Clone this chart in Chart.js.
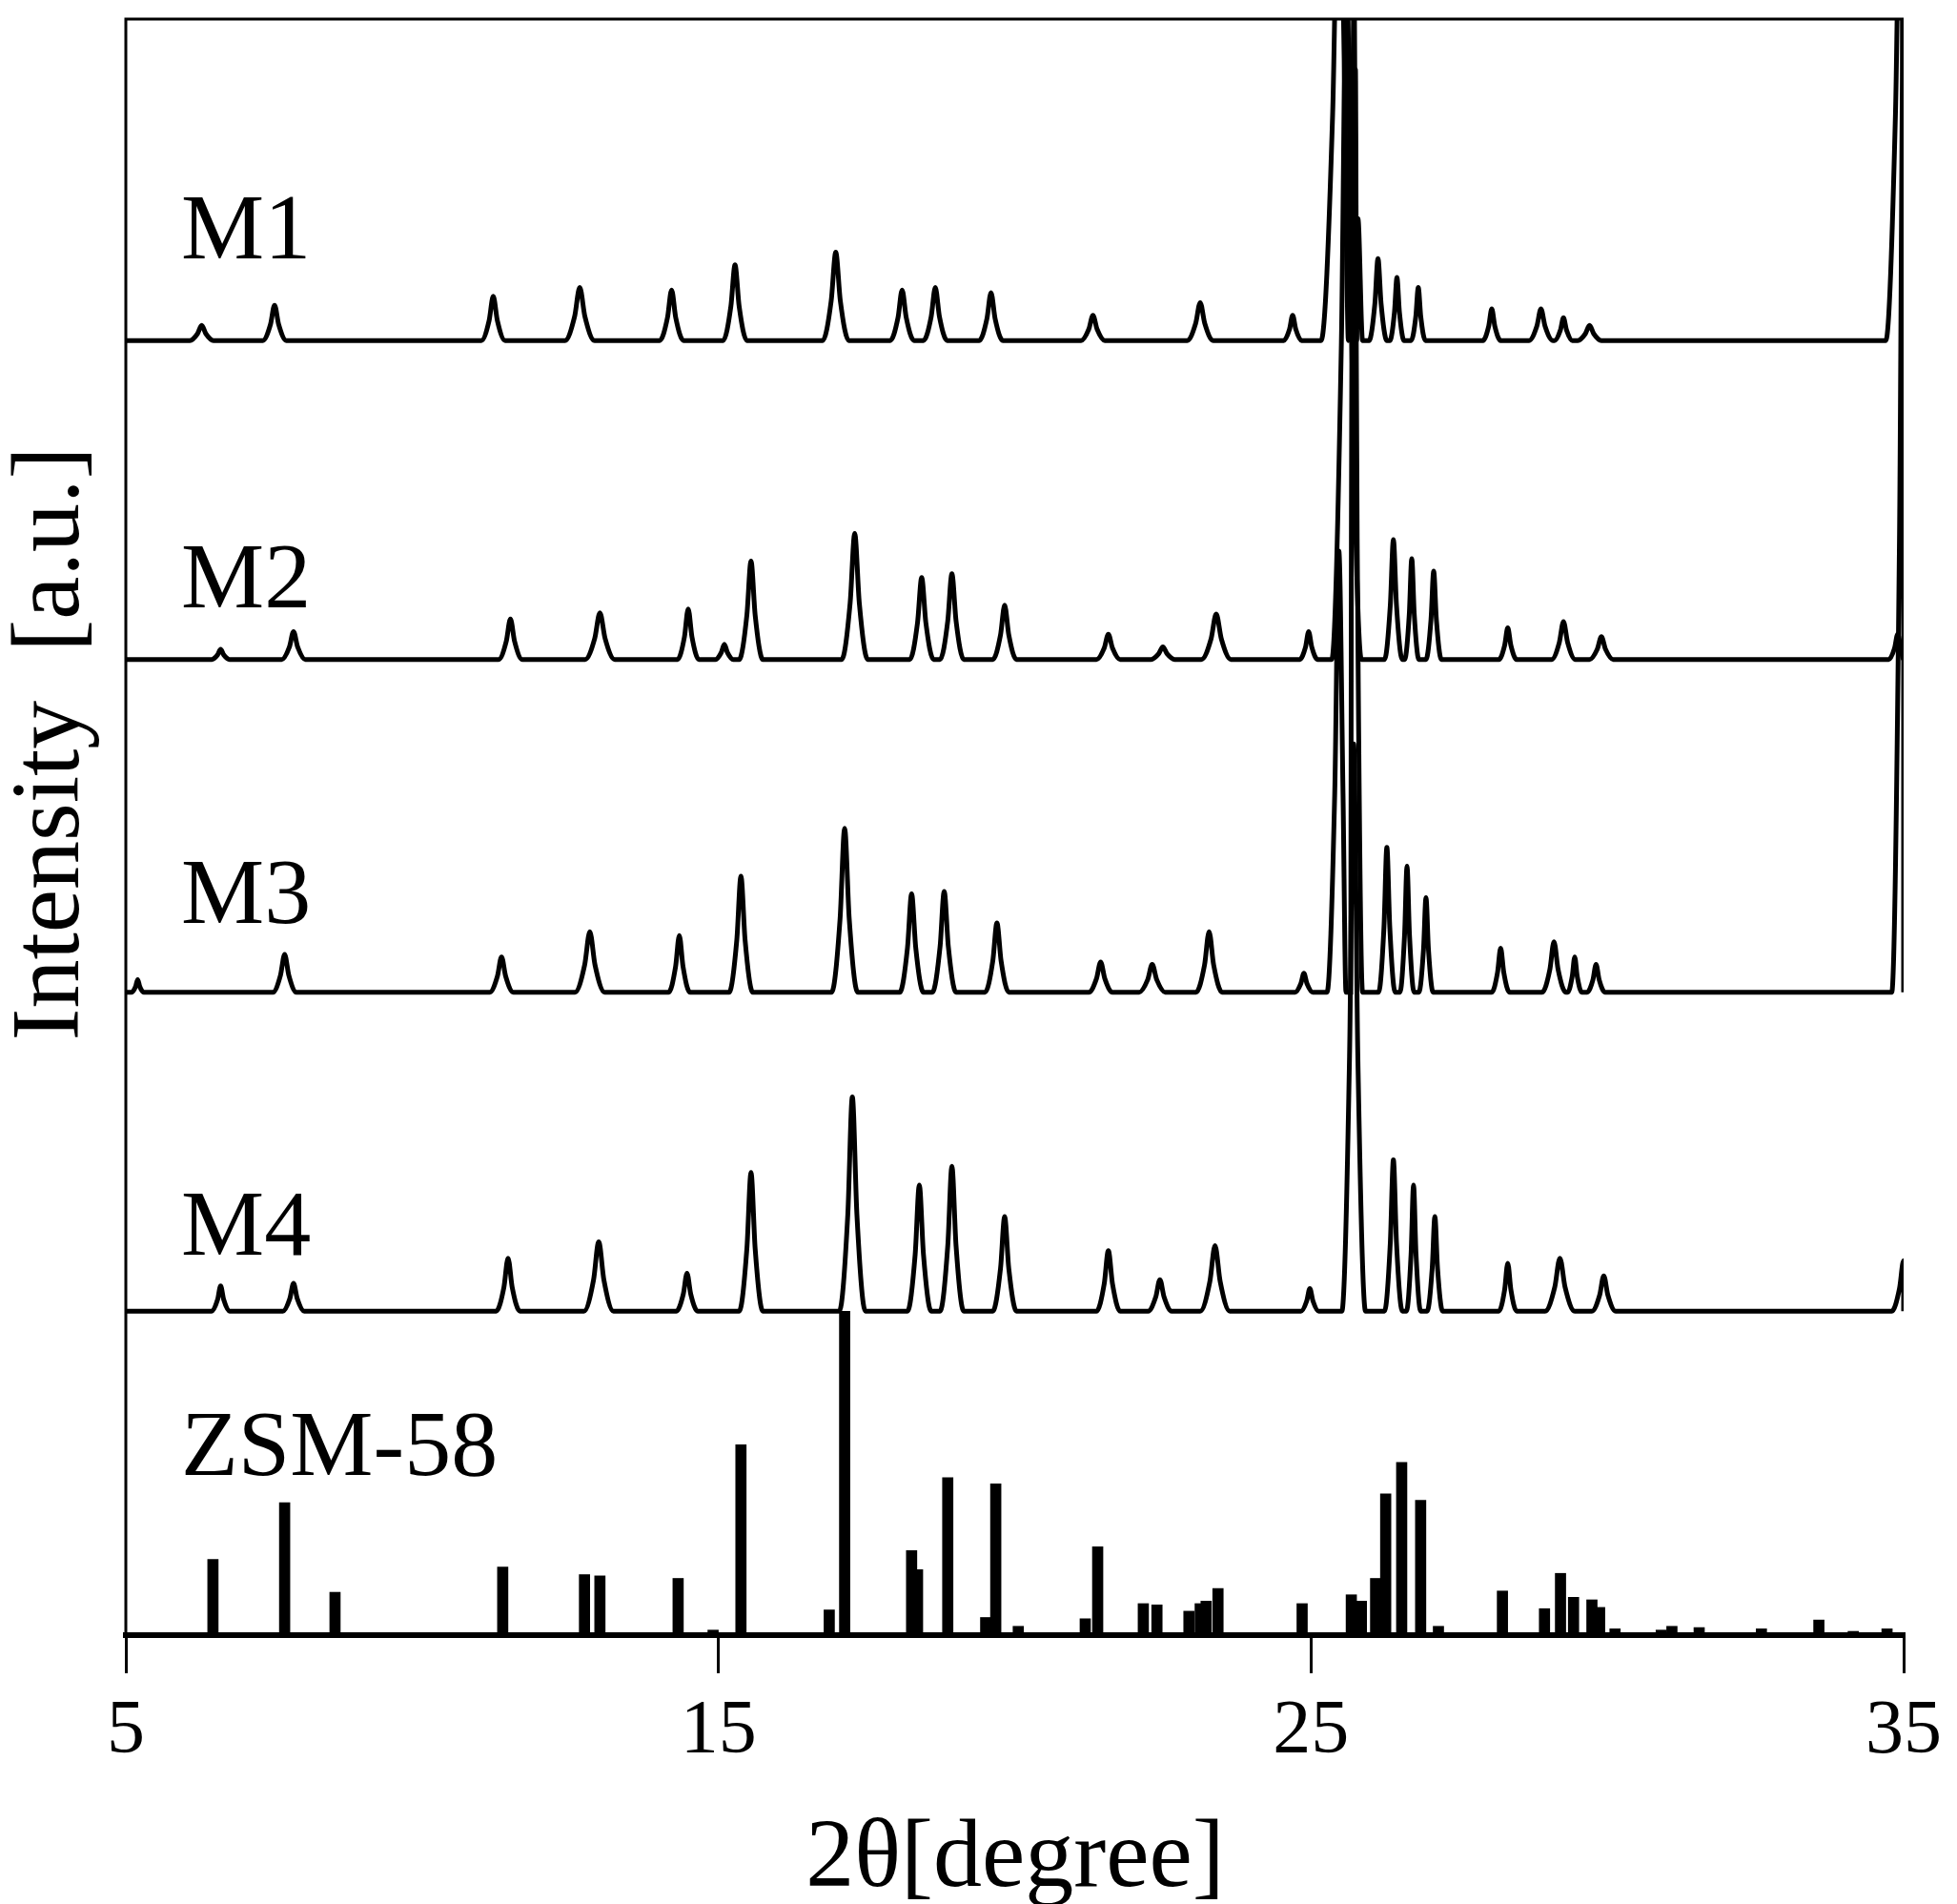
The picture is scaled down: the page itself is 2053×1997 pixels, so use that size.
<!DOCTYPE html>
<html><head><meta charset="utf-8">
<script src="https://cdn.jsdelivr.net/npm/chart.js@4/dist/chart.umd.min.js"></script>
<style>html,body{margin:0;padding:0;background:#fff}#c{display:block}</style>
</head><body>
<canvas id="c" width="2053" height="1997"></canvas>
<script>
// peaks: [2theta, height above baseline, half-width (deg)]
const seriesNames = ["M1","M2","M3","M4"];
const offsets = [1027, 774, 510, 257];
const M1 = [[6.28,12,.2],[7.51,28,.2],[11.2,35,.2],[12.66,42,.25],[14.21,40,.2],[15.28,60,.2],[16.98,70,.22],[18.1,40,.2],[18.66,42,.2],[19.6,38,.2],[21.32,20,.2],[23.13,30,.22],[24.69,20,.15],[25.47,400,.3],[25.75,215,.12],[26.13,65,.15],[26.45,50,.12],[26.81,42,.12],[28.05,25,.15],[28.88,25,.2],[29.26,18,.15],[29.7,12,.2],[34.95,400,.25]];
const M2 = [[6.6,8,.15],[7.83,22,.2],[11.49,32,.2],[13.0,37,.25],[14.49,40,.18],[15.1,12,.15],[15.55,78,.2],[17.3,100,.22],[18.43,65,.2],[18.94,68,.2],[19.83,43,.2],[21.58,20,.2],[22.5,10,.2],[23.4,36,.25],[24.96,22,.15],[25.6,560,.25],[26.39,95,.15],[26.7,80,.12],[27.07,70,.13],[28.32,25,.15],[29.26,30,.2],[29.9,18,.2],[34.9,20,.15]];
const M3 = [[5.2,10,.1],[7.68,30,.2],[11.34,28,.2],[12.83,48,.25],[14.34,45,.18],[15.38,92,.2],[17.13,130,.22],[18.26,78,.2],[18.81,80,.2],[19.7,55,.2],[21.45,24,.2],[22.32,22,.22],[23.28,48,.22],[24.88,15,.15],[25.47,350,.2],[25.73,800,.14],[26.28,115,.14],[26.62,100,.12],[26.94,75,.12],[28.2,35,.15],[29.1,40,.2],[29.45,28,.12],[29.81,22,.15],[35.0,800,.2]];
const M4 = [[6.6,20,.15],[7.83,22,.18],[11.45,42,.2],[12.98,55,.25],[14.47,30,.18],[15.55,110,.2],[17.26,170,.22],[18.39,100,.2],[18.94,115,.2],[19.83,75,.2],[21.58,48,.2],[22.45,25,.2],[23.38,52,.25],[24.98,18,.15],[25.72,450,.2],[26.39,120,.15],[26.73,100,.12],[27.09,75,.13],[28.32,38,.15],[29.2,42,.25],[29.94,28,.2],[35.0,40,.2]];
// ZSM-58 reference sticks: [2theta, relative height]
const stickPos = [6.47,7.68,8.53,11.36,12.74,13.0,14.32,14.91,15.38,16.87,17.13,18.26,18.36,18.87,19.51,19.68,20.06,21.19,21.40,22.17,22.40,22.94,23.13,23.23,23.43,24.85,25.68,25.85,26.09,26.26,26.53,26.85,27.15,28.23,28.94,29.21,29.43,29.74,29.87,30.13,30.91,31.09,31.55,32.60,33.57,34.15,34.72];
const stickH = [60,105,34,54,48,47,45,4,151,20,257,67,52,125,14,120,7,13,70,25,24,19,25,27,37,25,32,27,45,112,137,107,7,35,21,49,30,28,22,5,4,7,6,5,12,3,5];
const xTicks = [5,15,25,35];

function buildLine(peaks, off){
  const pts=[{x:5,y:off}];
  peaks.forEach(p=>{
    pts.push({x:Math.max(5,p[0]-p[2]),y:off});
    pts.push({x:p[0]-p[2]*0.35,y:off+p[1]*0.45});
    pts.push({x:p[0],y:off+p[1]});
    pts.push({x:Math.min(35,p[0]+p[2]*0.35),y:off+p[1]*0.45});
    pts.push({x:Math.min(35,p[0]+p[2]),y:off});
  });
  pts.push({x:35,y:off});
  pts.sort((a,b)=>a.x-b.x);
  return pts;
}
const allPeaks=[M1,M2,M3,M4];
const datasets = allPeaks.map((pk,i)=>({type:'line',label:seriesNames[i],data:buildLine(pk,offsets[i]),borderColor:'#000',borderWidth:5,pointRadius:0,cubicInterpolationMode:'monotone',fill:false,clip:true}));
datasets.push({type:'bar',label:'ZSM-58',data:stickPos.map((x,i)=>({x:x,y:stickH[i]})),backgroundColor:'#000',barThickness:11});

const labelPlugin={id:'lbl',afterDraw(ch){
  const c=ch.ctx,a=ch.chartArea;
  c.save();c.fillStyle='#000';c.strokeStyle='#000';c.lineWidth=3;
  c.beginPath();c.moveTo(a.left,a.bottom);c.lineTo(a.left,a.top);c.lineTo(a.right,a.top);c.stroke();
  c.font='98px "Liberation Serif"';c.textBaseline='middle';c.textAlign='left';
  [['M1',245],['M2',611],['M3',942],['M4',1290],['ZSM-58',1521]].forEach(t=>c.fillText(t[0],190,t[1]));
  c.font='102px "Liberation Serif"';c.textAlign='center';
  c.fillText('2θ[degree]',1065,1951);
  c.translate(55,780);c.rotate(-Math.PI/2);c.fillText('Intensity  [a.u.]',0,0);
  c.restore();
}};
new Chart(document.getElementById('c'),{
  data:{datasets},
  options:{responsive:false,animation:false,
    layout:{padding:{left:132,right:56,top:20,bottom:0}},
    plugins:{legend:{display:false},tooltip:{enabled:false}},
    scales:{
      x:{type:'linear',min:5,max:35,offset:false,afterBuildTicks:s=>{s.ticks=xTicks.map(v=>({value:v}));},
        afterFit:s=>{s.height=282;},
        border:{color:'#000',width:6},
        grid:{offset:false,drawOnChartArea:false,color:'#000',lineWidth:3,tickLength:40},
        ticks:{color:'#000',font:{family:'Liberation Serif',size:80},padding:14}},
      y:{display:false,min:0,max:1282}
    }},
  plugins:[labelPlugin]
});
</script>
</body></html>
